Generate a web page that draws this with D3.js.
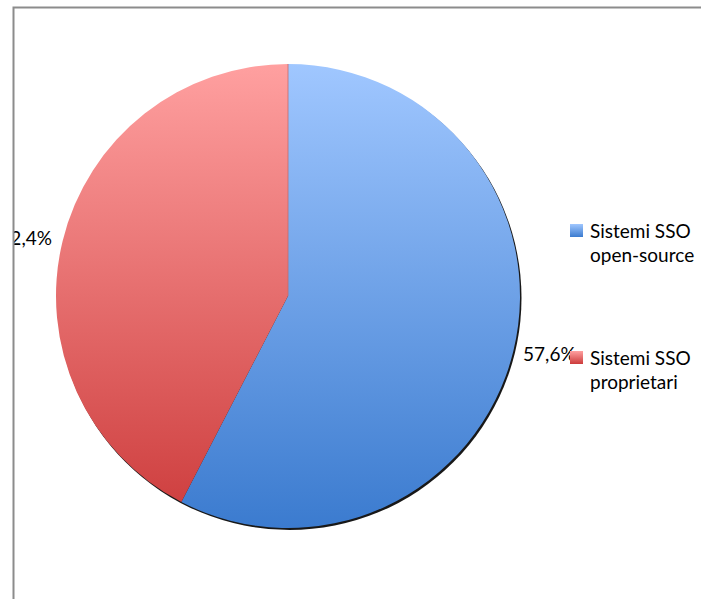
<!DOCTYPE html>
<html>
<head>
<meta charset="utf-8">
<script src="https://d3js.org/d3.v7.min.js"></script>
<style>
  body { margin: 0; background: #fff; }
  text { font-family: Lato, "Open Sans", sans-serif; fill: #000; }
</style>
</head>
<body>
<div id="chart"></div>
<script>
// values
const categories = ["Sistemi SSO open-source", "Sistemi SSO proprietari"];
const legendLines = [["Sistemi SSO", "open-source"], ["Sistemi SSO", "proprietari"]];
const shares = [57.6, 42.4];
const shareLabels = ["57,6%", "42,4%"];

const width = 701, height = 599;
const cx = 288, cy = 296, radius = 232;

const gradientStops = [
    {top: "#a0c7ff", bottom: "#3b7bcf"},
    {top: "#ffa0a0", bottom: "#cc3b3b"}
];

const svg = d3.select("#chart").append("svg")
    .attr("width", width)
    .attr("height", height);

const defs = svg.append("defs");

gradientStops.forEach((g, i) => {
    let lg = defs.append("linearGradient")
        .attr("id", "grad" + i)
        .attr("gradientUnits", "userSpaceOnUse")
        .attr("x1", 0).attr("y1", -radius)
        .attr("x2", 0).attr("y2", radius);
    lg.append("stop").attr("offset", "0%").attr("stop-color", g.top);
    lg.append("stop").attr("offset", "100%").attr("stop-color", g.bottom);

    let sg = defs.append("linearGradient")
        .attr("id", "lgrad" + i)
        .attr("x1", 0).attr("y1", 0).attr("x2", 0).attr("y2", 1);
    sg.append("stop").attr("offset", "0%").attr("stop-color", g.top);
    sg.append("stop").attr("offset", "100%").attr("stop-color", g.bottom);
});

defs.append("filter").attr("id", "soft")
    .append("feGaussianBlur").attr("stdDeviation", 0.5);

// labels left of the frame are cut off, as in the original
defs.append("clipPath").attr("id", "plotClip")
    .append("rect")
    .attr("x", 14).attr("y", 8)
    .attr("width", width).attr("height", height);

const pie = d3.pie().sort(null).value(d => d)(shares);
const arc = d3.arc().innerRadius(0).outerRadius(radius);
const labelArc = d3.arc().innerRadius(radius + 13).outerRadius(radius + 13);

const plot = svg.append("g").attr("clip-path", "url(#plotClip)");
const g = plot.append("g").attr("transform", `translate(${cx},${cy})`);

// shadow behind the pie
g.append("circle")
    .attr("cx", 1.5).attr("cy", 2)
    .attr("r", radius)
    .attr("fill", "#000")
    .attr("opacity", 0.9)
    .attr("filter", "url(#soft)");

g.selectAll(".slice")
    .data(pie)
    .enter().append("path")
    .attr("class", "slice")
    .attr("d", arc)
    .attr("fill", (d, i) => `url(#grad${i})`);

// thin edge between slices at the top
g.append("line")
    .attr("x1", 0).attr("y1", 0)
    .attr("x2", 0).attr("y2", -radius)
    .attr("stroke", "#c86a6a")
    .attr("stroke-width", 0.8);

// percentage labels
g.selectAll(".pct")
    .data(pie)
    .enter().append("text")
    .attr("class", "pct")
    .attr("x", d => labelArc.centroid(d)[0] + ((d.startAngle + d.endAngle) / 2 < Math.PI ? -3 : 2))
    .attr("y", d => labelArc.centroid(d)[1])
    .attr("dy", "0.38em")
    .attr("text-anchor", d => (d.startAngle + d.endAngle) / 2 < Math.PI ? "start" : "end")
    .style("font-size", "19px")
    .text((d, i) => shareLabels[i]);

// frame
svg.append("path")
    .attr("d", `M13.5,${height} L13.5,7.5 L${width},7.5`)
    .attr("fill", "none")
    .attr("stroke", "#8c8c8c")
    .attr("stroke-width", 2);

// legend
const legendY = d3.scaleBand().domain(categories).range([218, 472]);

const legend = svg.selectAll(".legend")
    .data(categories)
    .enter().append("g")
    .attr("class", "legend")
    .attr("transform", d => `translate(570,${legendY(d)})`);

legend.append("rect")
    .attr("x", 0).attr("y", 6)
    .attr("width", 13).attr("height", 13)
    .attr("fill", (d, i) => `url(#lgrad${i})`);

legend.each(function(d, i) {
    let t = d3.select(this).append("text")
        .style("font-size", "19px");
    legendLines[i].forEach((line, j) => {
        t.append("tspan").attr("x", 20).attr("y", 20 + j * 24).text(line);
    });
});
</script>
</body>
</html>
